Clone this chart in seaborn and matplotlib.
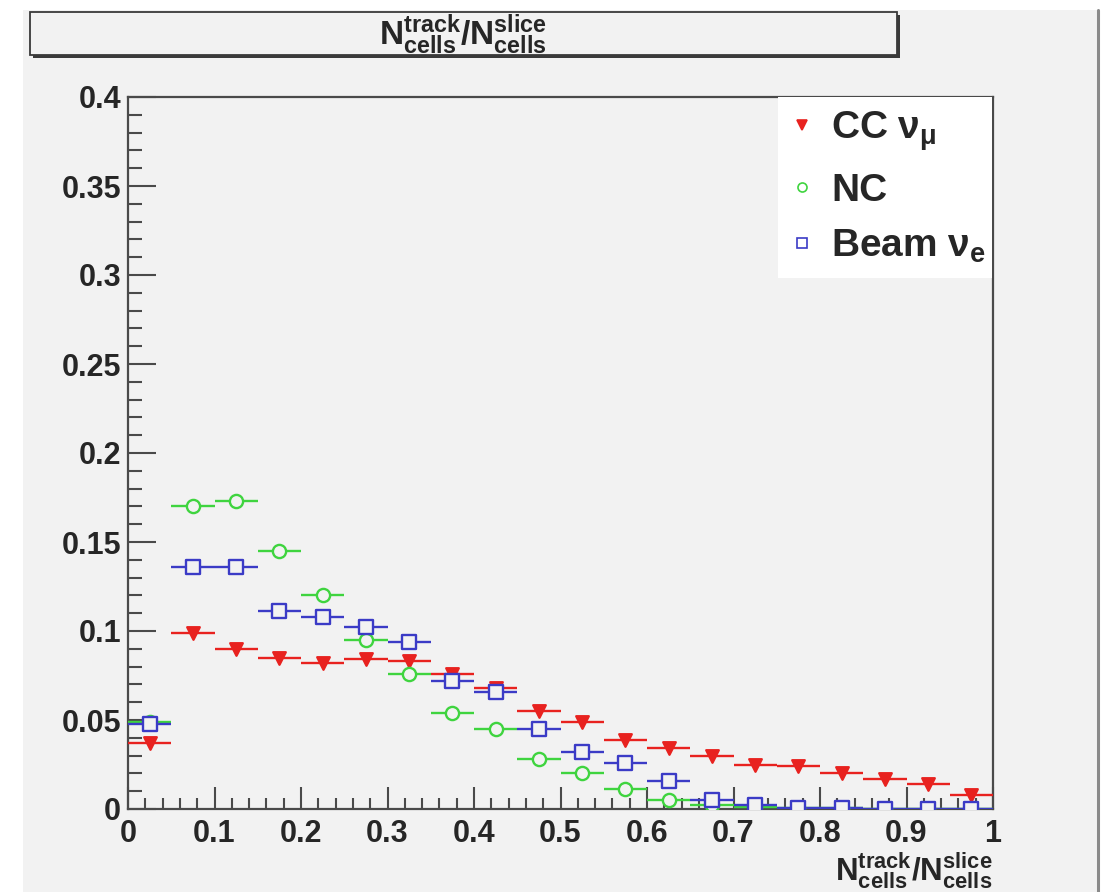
import matplotlib
matplotlib.use("Agg")
import numpy as np
import pandas as pd
import matplotlib.pyplot as plt
from matplotlib.lines import Line2D
from matplotlib.patches import Rectangle
from matplotlib.ticker import MultipleLocator, FixedLocator, FixedFormatter
import seaborn as sns

# Histogram contents: fraction of slices per bin of N_cells(track)/N_cells(slice)
bin_centers = [0.025, 0.075, 0.125, 0.175, 0.225, 0.275, 0.325, 0.375, 0.425, 0.475,
               0.525, 0.575, 0.625, 0.675, 0.725, 0.775, 0.825, 0.875, 0.925, 0.975]
bin_half_width = 0.025

cc_numu = [0.037, 0.099, 0.090, 0.085, 0.082, 0.084, 0.083, 0.076, 0.068, 0.055,
           0.049, 0.039, 0.034, 0.030, 0.025, 0.024, 0.020, 0.017, 0.014, 0.008]
nc = [0.049, 0.170, 0.173, 0.145, 0.120, 0.095, 0.076, 0.054, 0.045, 0.028,
      0.020, 0.011, 0.005, 0.002, 0.001, 0.0005, 0.0003, 0.0002, 0.0001, 0.0]
beam_nue = [0.048, 0.136, 0.136, 0.111, 0.108, 0.102, 0.094, 0.072, 0.066, 0.045,
            0.032, 0.026, 0.016, 0.005, 0.002, 0.0008, 0.0004, 0.0002, 0.0001, 0.0]

series_names = ["CC", "NC", "Beam"]
legend_labels = [r"CC $\mathrm{\nu}_{\mathrm{\mu}}$", "NC", r"Beam $\mathrm{\nu}_{\mathrm{e}}$"]

x_tick_values = [0, 0.1, 0.2, 0.3, 0.4, 0.5, 0.6, 0.7, 0.8, 0.9, 1.0]
x_tick_labels = ["0", "0.1", "0.2", "0.3", "0.4", "0.5", "0.6", "0.7", "0.8", "0.9", "1"]
y_tick_values = [0, 0.05, 0.1, 0.15, 0.2, 0.25, 0.3, 0.35, 0.4]
y_tick_labels = ["0", "0.05", "0.1", "0.15", "0.2", "0.25", "0.3", "0.35", "0.4"]

axis_title = (r"$\mathbf{N}^{\mathbf{track}}_{\mathbf{cells}}\mathbf{/N}"
              r"^{\mathbf{slice}}_{\mathbf{cells}}$")

df = pd.DataFrame({
    "x": bin_centers * 3,
    "y": cc_numu + nc + beam_nue,
    "sample": [s for s in series_names for _ in bin_centers],
})

# ---- styling ----
sns.set_theme(style="ticks")
plt.rcParams["font.family"] = ["Liberation Sans", "DejaVu Sans"]
plt.rcParams["font.weight"] = "bold"
plt.rcParams["mathtext.fontset"] = "custom"
plt.rcParams["mathtext.rm"] = "Liberation Sans"
plt.rcParams["mathtext.it"] = "Liberation Sans:italic"
plt.rcParams["mathtext.bf"] = "Liberation Sans:bold"

canvas_bg = "#f2f2f2"
frame_col = "#4a4a4a"
styles = {
    "CC":   dict(marker="v", color="#e8221f", face="#e8221f", size=9.0),
    "NC":   dict(marker="o", color="#3fd43f", face=canvas_bg, size=9.5),
    "Beam": dict(marker="s", color="#3b3bc6", face=canvas_bg, size=10.5),
}

fig = plt.figure(figsize=(11.08, 8.92), dpi=100, facecolor="white")
W, H = 1108.0, 892.0

# canvas background and its right border
fig.patches.append(Rectangle((23 / W, 0), (1098 - 23) / W, (H - 10) / H,
                             transform=fig.transFigure, facecolor=canvas_bg,
                             edgecolor="none", zorder=-10))
fig.lines.append(Line2D([1098 / W, 1098 / W], [0, (H - 10) / H],
                        transform=fig.transFigure, color="#8a8a8a", lw=2.2))

# title pave with shadow
fig.patches.append(Rectangle((33 / W, (H - 58) / H), 867 / W, 43 / H,
                             transform=fig.transFigure, facecolor="#3a3a3a",
                             edgecolor="none", zorder=1))
fig.patches.append(Rectangle((30 / W, (H - 55) / H), 867 / W, 43 / H,
                             transform=fig.transFigure, facecolor=canvas_bg,
                             edgecolor="#3a3a3a", lw=1.3, zorder=2))
fig.text(463 / W, (H - 35) / H, axis_title, fontsize=24, ha="center", va="center",
         zorder=3)

ax = fig.add_axes([128 / W, (H - 809) / H, 865 / W, 712 / H])
ax.set_facecolor(canvas_bg)

for name in series_names:
    st = styles[name]
    sub = df[df["sample"] == name]
    ax.errorbar(sub["x"], sub["y"], xerr=bin_half_width, fmt="none",
                ecolor=st["color"], elinewidth=1.7, capsize=0, zorder=3)
    sns.scatterplot(data=sub, x="x", y="y", ax=ax, marker=st["marker"],
                    s=st["size"] ** 2, color=st["color"], facecolor=st["face"],
                    edgecolor=st["color"], linewidth=1.7, zorder=4, legend=False,
                    clip_on=True)

ax.set_xlim(0, 1)
ax.set_ylim(0, 0.4)
ax.xaxis.set_major_locator(FixedLocator(x_tick_values))
ax.xaxis.set_major_formatter(FixedFormatter(x_tick_labels))
ax.yaxis.set_major_locator(FixedLocator(y_tick_values))
ax.yaxis.set_major_formatter(FixedFormatter(y_tick_labels))
ax.xaxis.set_minor_locator(MultipleLocator(0.02))
ax.yaxis.set_minor_locator(MultipleLocator(0.01))

ax.tick_params(axis="x", which="major", direction="in", length=16, width=1.5,
               color=frame_col, labelsize=22, pad=7)
ax.tick_params(axis="x", which="minor", direction="in", length=8, width=1.5,
               color=frame_col)
ax.tick_params(axis="y", which="major", direction="in", length=20, width=1.5,
               color=frame_col, labelsize=22, pad=5)
ax.tick_params(axis="y", which="minor", direction="in", length=10, width=1.5,
               color=frame_col)
for lab in ax.get_xticklabels() + ax.get_yticklabels():
    lab.set_fontweight("bold")
for sp in ax.spines.values():
    sp.set_visible(True)
    sp.set_color(frame_col)
    sp.set_linewidth(1.6)

ax.set_xlabel(axis_title, fontsize=22.5, loc="right", labelpad=1)
ax.set_ylabel("")

# legend
handles = []
for name in series_names:
    st = styles[name]
    handles.append(Line2D([], [], ls="none", marker=st["marker"], markersize=6.5,
                          color=st["color"],
                          markerfacecolor=st["face"] if name == "CC" else "white",
                          markeredgecolor=st["color"], markeredgewidth=1.2))
leg = ax.legend(handles, legend_labels, loc="upper left",
                bbox_to_anchor=(650 / 865, 0.5, 214 / 865, 0.5), mode="expand",
                borderaxespad=0, frameon=True, fancybox=False, framealpha=1,
                facecolor="white", edgecolor="none",
                prop={"weight": "bold", "size": 28}, handlelength=0.6,
                handletextpad=0.45, labelspacing=0.5, borderpad=0.32)

fig.savefig("out.png", dpi=100, facecolor=fig.get_facecolor())
